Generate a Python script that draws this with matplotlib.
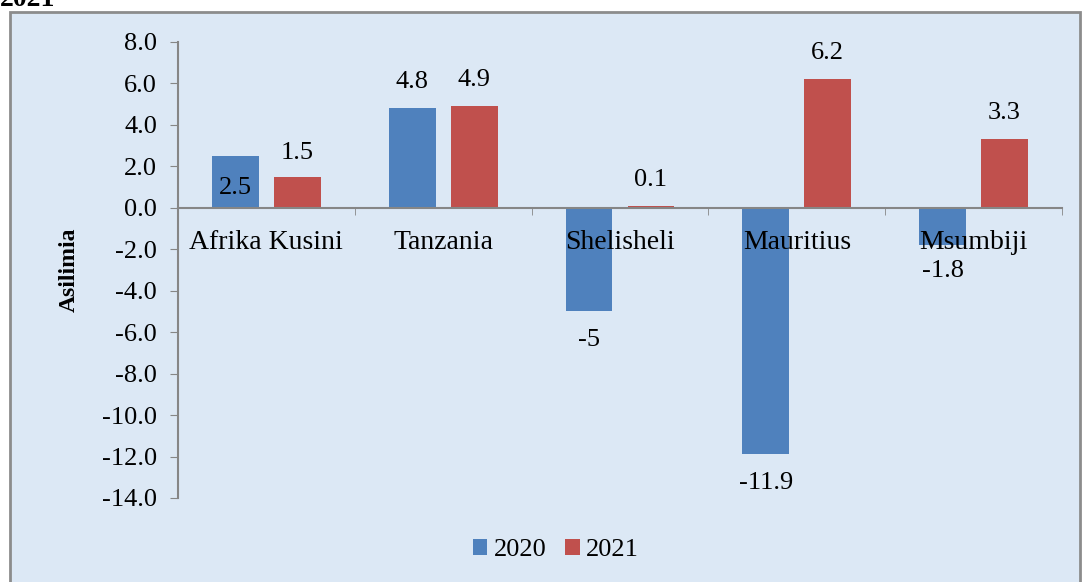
import matplotlib.pyplot as plt
import numpy as np
from matplotlib.patches import Rectangle

nchi = ['Afrika Kusini', 'Tanzania', 'Shelisheli', 'Mauritius', 'Msumbiji']
mwaka_2020 = [2.5, 4.8, -5.0, -11.9, -1.8]
mwaka_2021 = [1.5, 4.9, 0.1, 6.2, 3.3]
lebo_2020 = ['2.5', '4.8', '-5', '-11.9', '-1.8']
lebo_2021 = ['1.5', '4.9', '0.1', '6.2', '3.3']

plt.rcParams['font.family'] = ['Liberation Serif', 'DejaVu Serif']

fig = plt.figure(figsize=(10.82, 5.82), dpi=100)
fig.patch.set_facecolor('white')

# fremu ya chati
fig.patches.append(Rectangle((10 / 1082, -0.05), 1070 / 1082, 1 - 12 / 582 + 0.05,
                             transform=fig.transFigure, facecolor='#dce8f5',
                             edgecolor='#8c8c8c', linewidth=2, zorder=-5))
fig.text(0.0, 1 - 6 / 582, '2021', fontsize=20, fontweight='bold', va='baseline', ha='left')

ax = fig.add_axes([178 / 1082, 1 - 498 / 582, (1062 - 178) / 1082, (498 - 42) / 582])
ax.set_facecolor('none')
ax.set_zorder(1)
ax.set_axisbelow(False)

x = np.arange(len(nchi))
w = 0.265
b1 = ax.bar(x - 0.175, mwaka_2020, w, color='#4f81bd', label='2020', zorder=2)
b2 = ax.bar(x + 0.175, mwaka_2021, w, color='#c0504d', label='2021', zorder=2)

ax.set_xlim(-0.5, 4.5)
ax.set_ylim(-14, 8)
yt = np.arange(-14, 8.1, 2)
ax.set_yticks(yt)
ax.set_yticklabels([f'{v:.1f}' for v in yt])

ax.set_xticks(x)
ax.set_xticklabels(nchi)
ax.set_xticks(np.arange(-0.5, 4.6, 1), minor=True)
ax.tick_params(axis='x', which='major', length=0, pad=16, labelsize=20)
ax.tick_params(axis='x', which='minor', length=5, color='#868686', direction='out')
ax.tick_params(axis='y', length=6, color='#868686', pad=9, labelsize=19)

for s in ['top', 'right']:
    ax.spines[s].set_visible(False)
ax.spines['bottom'].set_position(('data', 0))
ax.spines['bottom'].set_color('#868686')
ax.spines['left'].set_color('#868686')
ax.spines['bottom'].set_linewidth(1.5)
ax.spines['left'].set_linewidth(1.5)

ax.set_ylabel('Asilimia', fontsize=17, fontweight='bold')
ax.yaxis.set_label_coords((80 - 178) / 884, (498 - 270) / 456)

# lebo za data (pikseli kutoka mwisho wa nguzo)
off_2020 = [-32, 26, -29, -29, -26]
off_2021 = [24, 26, 26, 26, 26]
for i in range(len(nchi)):
    ax.annotate(lebo_2020[i], (x[i] - 0.175, mwaka_2020[i]), xytext=(0, off_2020[i] * 0.72),
                textcoords='offset points', ha='center', va='center', fontsize=19, zorder=6)
    ax.annotate(lebo_2021[i], (x[i] + 0.175, mwaka_2021[i]), xytext=(0, off_2021[i] * 0.72),
                textcoords='offset points', ha='center', va='center', fontsize=19, zorder=6)

fig.legend(handles=[b1, b2], loc='center', bbox_to_anchor=(556 / 1082, 1 - 550 / 582),
           ncol=2, frameon=False, fontsize=19, handlelength=0.55, handleheight=0.55,
           handletextpad=0.25, columnspacing=0.7)

fig.savefig('out.png', dpi=100)
